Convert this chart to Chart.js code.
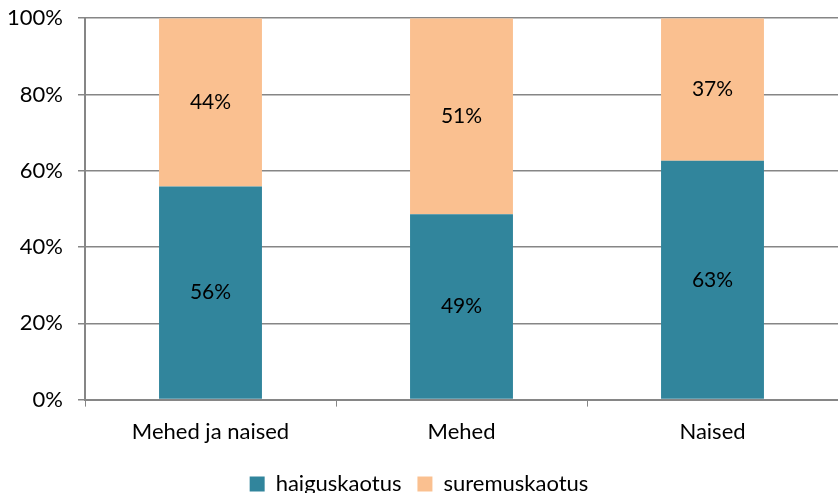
<!DOCTYPE html>
<html>
<head>
<meta charset="utf-8">
<script src="https://cdn.jsdelivr.net/npm/chart.js@4/dist/chart.umd.min.js"></script>
<style>
  html, body { margin: 0; padding: 0; background: #fff; overflow: hidden; }
  #wrap { width: 838px; height: 515px; margin-top: -10px; position: relative; }
</style>
</head>
<body>
<div id="wrap"><canvas id="chart"></canvas></div>
<script>
// Share of burden: disease loss vs mortality loss
const categories = ['Mehed ja naised', 'Mehed', 'Naised'];
const haiguskaotus = [55.9, 48.6, 62.6];
const suremuskaotus = [44.1, 51.4, 37.4];
const yTicks = [0, 20, 40, 60, 80, 100];

const fontFamily = 'Lato, "Open Sans", sans-serif';

// Draws the percentage label in the middle of each bar segment
const barLabels = {
    id: 'barLabels',
    afterDatasetsDraw(chart) {
        const ctx = chart.ctx;
        ctx.save();
        ctx.fillStyle = '#000';
        ctx.font = '21px ' + fontFamily;
        ctx.textAlign = 'center';
        ctx.textBaseline = 'middle';
        chart.data.datasets.forEach((ds, i) => {
            chart.getDatasetMeta(i).data.forEach((bar, j) => {
                const y = (bar.y + bar.base) / 2;
                ctx.fillText(Math.round(ds.data[j]) + '%', bar.x, y);
            });
        });
        ctx.restore();
    }
};

new Chart(document.getElementById('chart'), {
    type: 'bar',
    data: {
        labels: categories,
        datasets: [
            { label: 'haiguskaotus', data: haiguskaotus, backgroundColor: '#31859C' },
            { label: 'suremuskaotus', data: suremuskaotus, backgroundColor: '#FAC090' }
        ]
    },
    options: {
        responsive: true,
        maintainAspectRatio: false,
        animation: false,
        layout: { padding: { top: 2, right: 0, left: 0, bottom: 0 } },
        datasets: { bar: { categoryPercentage: 1, barPercentage: 0.41 } },
        scales: {
            x: {
                stacked: true,
                grid: { drawOnChartArea: false, color: '#868686', tickLength: 7, offset: true },
                border: { color: '#868686', width: 2 },
                ticks: { color: '#000', font: { size: 22, family: fontFamily }, padding: 12 }
            },
            y: {
                stacked: true,
                min: 0,
                max: 100,
                afterBuildTicks(axis) { axis.ticks = yTicks.map(v => ({ value: v })); },
                afterFit(axis) { axis.width = 85; },
                grid: { color: '#868686', tickLength: 7, lineWidth: 1.5 },
                border: { color: '#868686', width: 2 },
                ticks: {
                    color: '#000',
                    font: { size: 22, family: fontFamily },
                    padding: 15,
                    callback: v => v + '%'
                }
            }
        },
        plugins: {
            legend: {
                position: 'bottom',
                labels: {
                    color: '#000',
                    font: { size: 22, family: fontFamily },
                    boxWidth: 15,
                    boxHeight: 15,
                    padding: 16
                }
            },
            tooltip: { enabled: false }
        }
    },
    plugins: [barLabels]
});
</script>
</body>
</html>
